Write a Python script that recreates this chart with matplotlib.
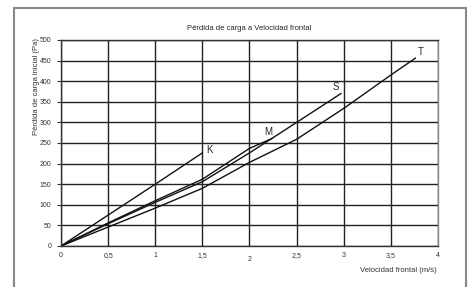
import matplotlib
matplotlib.use('Agg')
import matplotlib.pyplot as plt
from matplotlib.patches import Rectangle

plt.rcParams['font.family'] = ['Liberation Sans', 'DejaVu Sans']

# curvas de pérdida de carga (Pa) vs velocidad frontal (m/s)
k_vel = [0, 0.5, 1.0, 1.5]
k_pa = [0, 75, 150, 226]
m_vel = [0, 0.5, 1.0, 1.5, 2.0, 2.24]
m_pa = [0, 56, 110, 162, 237, 261]
s_vel = [0, 0.5, 1.0, 1.5, 2.0, 2.5, 2.97]
s_pa = [0, 54, 106, 156, 226, 300, 370]
t_vel = [0, 0.5, 1.0, 1.5, 2.0, 2.5, 3.0, 3.5, 3.76]
t_pa = [0, 46, 92, 140, 203, 259, 334, 415, 456]

series = [('K', k_vel, k_pa), ('M', m_vel, m_pa), ('S', s_vel, s_pa), ('T', t_vel, t_pa)]
# desplazamiento de cada etiqueta (puntos) y alineación
label_pos = {'K': ((3, 2), 'left', 'center'),
             'M': ((-3, 1), 'center', 'bottom'),
             'S': ((-4, 1), 'center', 'bottom'),
             'T': ((4, 1), 'center', 'bottom')}

xticks = [0, 0.5, 1, 1.5, 2, 2.5, 3, 3.5, 4]
xlabels = ['0', '0,5', '1', '1,5', '2', '2,5', '3', '3,5', '4']
yticks = list(range(0, 501, 50))

fig = plt.figure(figsize=(4.74, 2.87), dpi=100)
fig.patches.append(Rectangle((14/474, -0.05), 452/474, 1.05 - 8/287, transform=fig.transFigure,
                             fill=False, edgecolor='#888888', lw=1.5))

ax = fig.add_axes([61/474, 1 - 246/287, 377/474, 206/287])
for name, v, p in series:
    ax.plot(v, p, color='#111111', lw=1.0)
    off, ha, va = label_pos[name]
    ax.annotate(name, (v[-1], p[-1]), xytext=off, textcoords='offset points',
                fontsize=7, ha=ha, va=va, color='#222222')

ax.set_xlim(0, 4)
ax.set_ylim(0, 500)
ax.set_xticks(xticks)
ax.set_xticklabels(xlabels)
ax.set_yticks(yticks)
ax.tick_params(labelsize=5, colors='#333333', length=3, width=0.8, pad=4)
ax.tick_params(axis='x', length=0)
ax.grid(True, color='#222222', lw=1.0)
for s in ax.spines.values():
    s.set_color('#333333')
    s.set_linewidth(1.0)
ax.spines['right'].set_color('#888888')
ax.get_xticklabels()[4].set_y(-0.02)

ax.set_title('Pérdida de carga a Velocidad frontal', fontsize=5.5, color='#222222', pad=7)
fig.text(37/474, 1 - 38/287, 'Pérdida de carga inicial (Pa)', rotation=90, fontsize=5.5,
         ha='center', va='top', color='#333333')
fig.text(437/474, 1 - 270/287, 'Velocidad frontal (m/s)', fontsize=5.5, ha='right', va='center',
         color='#333333')

fig.savefig('out.png', dpi=100)
